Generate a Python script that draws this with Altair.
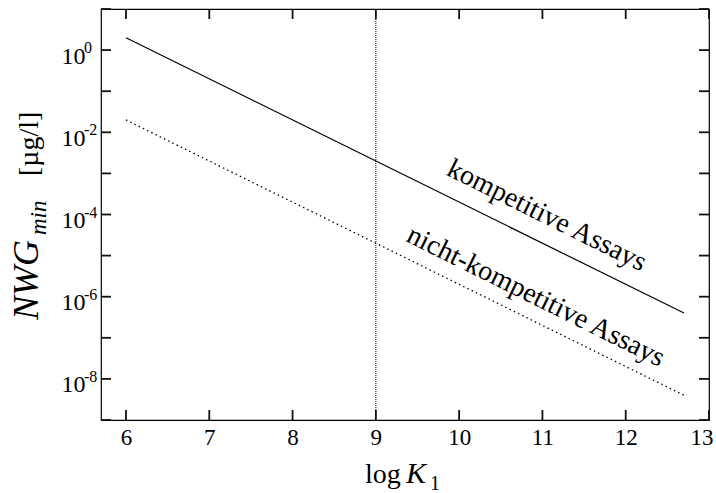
import altair as alt
import pandas as pd

# Detection limit vs. affinity constant for two assay formats
log_k = [6.0, 12.7]
nwg_kompetitiv = [2.0, 4.0e-7]
nwg_nicht_kompetitiv = [2.0e-2, 4.0e-9]

# Reference affinity marked by the vertical line
log_k_marker = [9.0]

# Axis ticks
x_ticks = [6, 7, 8, 9, 10, 11, 12, 13]
y_ticks = [1e-9, 1e-8, 1e-7, 1e-6, 1e-5, 1e-4, 1e-3, 1e-2, 1e-1, 1e0, 1e1]
y_label_values = [1e-8, 1e-6, 1e-4, 1e-2, 1e0]
y_label_exponents = ["-8", "-6", "-4", "-2", "0"]

# Line annotations
annot_text = ["kompetitive Assays", "nicht-kompetitive Assays"]
annot_x = [11.05, 10.92]
annot_y = [9.3e-5, 1.0e-6]

FONT = "Liberation Serif, Times New Roman, serif"
W, H = 608, 411
TICK = 10

lines = pd.DataFrame({
    "logK": log_k * 2,
    "nwg": nwg_kompetitiv + nwg_nicht_kompetitiv,
    "assay": ["kompetitiv"] * 2 + ["nicht-kompetitiv"] * 2,
})
marker = pd.DataFrame({"logK": log_k_marker})
annots = pd.DataFrame({"t": annot_text, "logK": annot_x, "nwg": annot_y})
exps = pd.DataFrame({"v": y_label_values, "e": y_label_exponents})
xt = pd.DataFrame({"tx": x_ticks})
yt = pd.DataFrame({"ty": y_ticks})
one = pd.DataFrame({"d": [0]})

x_scale = alt.Scale(domain=[5.7, 13.0], nice=False, zero=False)
y_scale = alt.Scale(type="log", domain=[1e-9, 1e1], nice=False)

x_axis = alt.Axis(orient="bottom", values=x_ticks, ticks=False, tickSize=0,
                  domain=False, grid=False, title=None, labelFont=FONT,
                  labelFontSize=23, labelColor="black", labelPadding=6,
                  labelOverlap=False, labelFlush=True, labelFlushOffset=4,
                  format="d")
y_axis = alt.Axis(orient="left", values=y_ticks, ticks=False, tickSize=0,
                  domain=False, grid=False, title=None, labelFont=FONT,
                  labelFontSize=24, labelColor="black", labelPadding=16,
                  labelOverlap=False, labelBaseline="alphabetic",
                  labelOffset=13, labelFlush=False,
                  labelExpr="round(log(datum.value)/LN10) % 2 == 0 ? '10' : ''")

# Inward-pointing ticks on all four sides
tick_mark = dict(color="#111111", strokeWidth=1.8)
x_ticks_bottom = alt.Chart(xt).mark_rule(**tick_mark).encode(
    x=alt.X("tx:Q", scale=x_scale, axis=x_axis),
    y=alt.value(H), y2=alt.value(H - TICK))
x_ticks_top = alt.Chart(xt).mark_rule(**tick_mark).encode(
    x=alt.X("tx:Q", scale=x_scale), y=alt.value(0), y2=alt.value(TICK))
y_ticks_left = alt.Chart(yt).mark_rule(**tick_mark).encode(
    y=alt.Y("ty:Q", scale=y_scale, axis=y_axis),
    x=alt.value(0), x2=alt.value(TICK))
y_ticks_right = alt.Chart(yt).mark_rule(**tick_mark).encode(
    y=alt.Y("ty:Q", scale=y_scale), x=alt.value(W), x2=alt.value(W - TICK))

solid = alt.Chart(lines).transform_filter(
    alt.datum.assay == "kompetitiv"
).mark_line(color="black", strokeWidth=1.2).encode(
    x=alt.X("logK:Q", scale=x_scale),
    y=alt.Y("nwg:Q", scale=y_scale),
)

dotted = alt.Chart(lines).transform_filter(
    alt.datum.assay == "nicht-kompetitiv"
).mark_line(color="black", strokeWidth=1.3, strokeDash=[1.5, 3.2]).encode(
    x=alt.X("logK:Q", scale=x_scale),
    y=alt.Y("nwg:Q", scale=y_scale),
)

vline = alt.Chart(marker).mark_rule(
    color="black", strokeWidth=1, strokeDash=[1, 1]
).encode(x=alt.X("logK:Q", scale=x_scale))

labels = alt.Chart(annots).mark_text(
    font=FONT, fontSize=28, color="black", angle=26.4,
    align="center", baseline="middle",
).encode(
    x=alt.X("logK:Q", scale=x_scale),
    y=alt.Y("nwg:Q", scale=y_scale),
    text="t:N",
)

exponents = alt.Chart(exps).mark_text(
    font=FONT, fontSize=16, color="black", align="left",
    baseline="alphabetic", dy=3,
).encode(
    x=alt.value(-17),
    y=alt.Y("v:Q", scale=y_scale),
    text="e:N",
)


def title_piece(text, x, y, size, style="normal", angle=0):
    return alt.Chart(one).mark_text(
        text=text, font=FONT, fontSize=size, fontStyle=style, color="black",
        align="left", baseline="alphabetic", angle=angle,
    ).encode(x=alt.value(x), y=alt.value(y))


# y title: NWG_min [µg/l], reading upwards
y_title = [
    title_piece("NWG", -63, 311, 36, "italic", 270),
    title_piece("min", -55, 226, 23, "italic", 270),
    title_piece("[µg/l]", -63, 167, 28, "normal", 270),
]
# x title: log K_1
x_title = [
    title_piece("log", 264, 474, 28),
    title_piece("K", 305, 474, 30, "italic"),
    title_piece("1", 329, 481, 20),
]

chart = alt.layer(
    vline, solid, dotted, labels, exponents, *y_title, *x_title,
    x_ticks_bottom, x_ticks_top, y_ticks_left, y_ticks_right,
).properties(
    width=W, height=H,
    autosize=alt.AutoSizeParams(type="none"),
    padding={"left": 101, "top": 9, "right": 7, "bottom": 73},
    background="white",
).configure_view(stroke="black", strokeWidth=1.2)

chart.save("out.html", embed_options={"renderer": "svg", "actions": False})
